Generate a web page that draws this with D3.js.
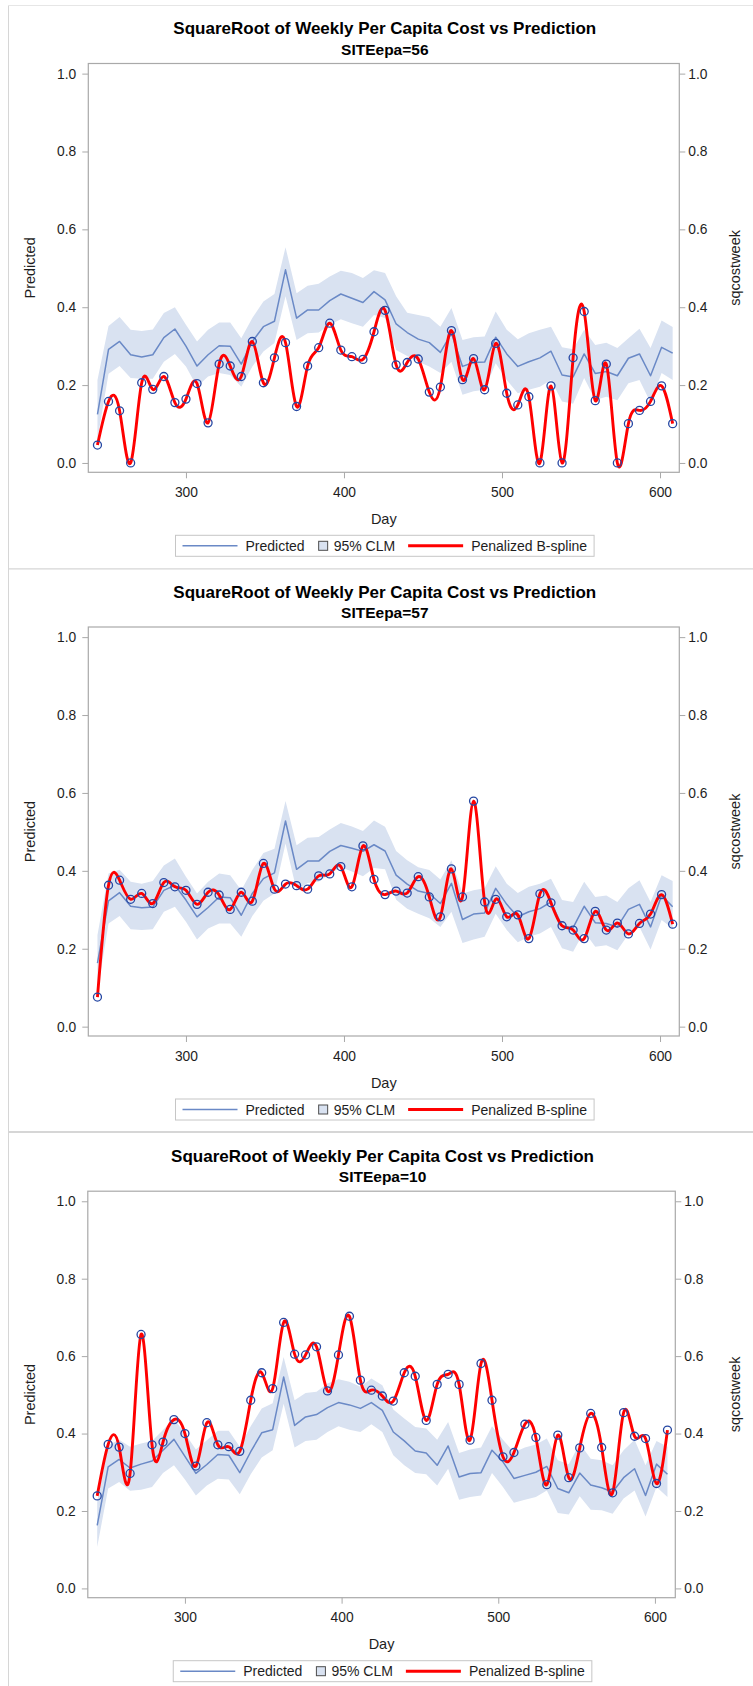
<!DOCTYPE html>
<html>
<head>
<meta charset="utf-8">
<script src="https://cdn.jsdelivr.net/npm/d3@7"></script>
<style>
  html, body { margin: 0; padding: 0; background: #fff; }
  svg { display: block; font-family: "Liberation Sans", Arial, Helvetica, sans-serif; }
</style>
</head>
<body>
<svg id="chart" width="753" height="1686"></svg>
<script>
// ---- data --------------------------------------------------------------
const days = [244,251,258,265,272,279,286,293,300,307,314,321,328,335,342,349,356,363,370,377,
              384,391,398,405,412,419,426,433,440,447,454,461,468,475,482,489,496,503,510,517,
              524,531,538,545,552,559,566,573,580,587,594,601,608];

const siteIds = ["56", "57", "10"];
const xTickValues = [300, 400, 500, 600];
const yTickValues = [0, 0.2, 0.4, 0.6, 0.8, 1.0];

// SITEepa=56
const obs56  = [0.046,0.158,0.134,0.000,0.206,0.189,0.222,0.155,0.164,0.204,
                0.103,0.254,0.249,0.222,0.312,0.206,0.270,0.309,0.145,0.249,
                0.296,0.359,0.290,0.273,0.266,0.337,0.392,0.252,0.258,0.267,
                0.182,0.195,0.340,0.214,0.268,0.188,0.307,0.179,0.149,0.170,
                0.000,0.198,0.000,0.270,0.389,0.160,0.254,0.000,0.101,0.135,
                0.158,0.198,0.101];
const pred56 = [0.125,0.292,0.312,0.278,0.272,0.278,0.322,0.344,0.300,0.249,
                0.278,0.301,0.300,0.254,0.312,0.350,0.364,0.496,0.372,0.393,
                0.393,0.417,0.434,0.423,0.412,0.440,0.419,0.357,0.335,0.318,
                0.309,0.284,0.333,0.248,0.258,0.259,0.323,0.280,0.248,0.260,
                0.270,0.287,0.226,0.221,0.280,0.230,0.235,0.224,0.269,0.280,
                0.224,0.297,0.282];
const upper56 = [0.213,0.352,0.375,0.342,0.339,0.343,0.385,0.400,0.355,0.312,
                 0.342,0.361,0.361,0.320,0.372,0.415,0.434,0.554,0.436,0.455,
                 0.460,0.479,0.494,0.488,0.475,0.495,0.488,0.428,0.386,0.380,
                 0.374,0.350,0.398,0.316,0.323,0.325,0.389,0.342,0.318,0.333,
                 0.342,0.350,0.297,0.292,0.342,0.303,0.309,0.295,0.320,0.345,
                 0.295,0.366,0.349];
const lower56 = [0.060,0.229,0.249,0.218,0.216,0.216,0.260,0.280,0.248,0.196,
                 0.222,0.231,0.226,0.196,0.248,0.286,0.308,0.428,0.316,0.333,
                 0.335,0.355,0.369,0.359,0.350,0.380,0.372,0.290,0.275,0.260,
                 0.248,0.231,0.260,0.175,0.184,0.188,0.256,0.213,0.179,0.188,
                 0.196,0.213,0.158,0.152,0.218,0.162,0.170,0.161,0.205,0.213,
                 0.155,0.231,0.213];

// SITEepa=57
const obs57  = [0.076,0.363,0.376,0.327,0.342,0.316,0.370,0.359,0.350,0.314,
                0.345,0.338,0.301,0.345,0.322,0.419,0.353,0.366,0.362,0.353,
                0.387,0.392,0.411,0.359,0.464,0.378,0.339,0.348,0.343,0.385,
                0.333,0.282,0.405,0.333,0.579,0.320,0.327,0.282,0.287,0.226,
                0.341,0.318,0.259,0.248,0.226,0.296,0.248,0.266,0.238,0.265,
                0.289,0.339,0.263];
const pred57 = [0.163,0.323,0.344,0.309,0.305,0.307,0.350,0.363,0.325,0.282,
                0.306,0.333,0.331,0.286,0.342,0.380,0.395,0.528,0.404,0.425,
                0.425,0.450,0.465,0.458,0.450,0.467,0.451,0.389,0.366,0.348,
                0.342,0.316,0.368,0.275,0.289,0.292,0.355,0.314,0.282,0.295,
                0.303,0.320,0.258,0.254,0.309,0.267,0.265,0.256,0.301,0.314,
                0.256,0.337,0.308];
const upper57 = [0.235,0.393,0.403,0.372,0.367,0.374,0.414,0.432,0.385,0.342,
                 0.372,0.393,0.389,0.350,0.402,0.446,0.457,0.579,0.466,0.485,
                 0.487,0.506,0.523,0.514,0.502,0.529,0.513,0.451,0.427,0.409,
                 0.402,0.378,0.427,0.342,0.350,0.355,0.412,0.367,0.343,0.359,
                 0.367,0.380,0.325,0.320,0.372,0.333,0.337,0.320,0.355,0.376,
                 0.320,0.389,0.374];
const lower57 = [0.090,0.265,0.284,0.250,0.248,0.250,0.295,0.308,0.269,0.224,
                 0.252,0.265,0.265,0.231,0.284,0.323,0.342,0.470,0.350,0.369,
                 0.372,0.392,0.409,0.398,0.386,0.407,0.404,0.326,0.303,0.290,
                 0.278,0.256,0.295,0.215,0.224,0.231,0.290,0.248,0.217,0.231,
                 0.239,0.256,0.201,0.192,0.244,0.205,0.209,0.196,0.237,0.256,
                 0.198,0.274,0.252];

// SITEepa=10
const obs10  = [0.239,0.372,0.365,0.297,0.656,0.371,0.378,0.436,0.400,0.316,
                0.428,0.371,0.366,0.354,0.486,0.557,0.516,0.687,0.605,0.603,
                0.624,0.510,0.603,0.703,0.538,0.512,0.497,0.484,0.557,0.548,
                0.434,0.527,0.553,0.527,0.383,0.581,0.486,0.340,0.351,0.424,
                0.390,0.268,0.396,0.286,0.363,0.452,0.364,0.247,0.454,0.393,
                0.387,0.271,0.409];
const pred10 = [0.163,0.314,0.333,0.311,0.321,0.329,0.357,0.385,0.341,0.297,
                0.320,0.346,0.344,0.299,0.353,0.402,0.410,0.546,0.421,0.443,
                0.449,0.467,0.480,0.474,0.465,0.480,0.460,0.404,0.381,0.355,
                0.350,0.318,0.368,0.288,0.297,0.299,0.357,0.327,0.284,0.292,
                0.300,0.315,0.258,0.247,0.298,0.267,0.260,0.249,0.286,0.309,
                0.240,0.321,0.295];
const upper10 = [0.223,0.370,0.384,0.366,0.374,0.381,0.409,0.438,0.400,0.359,
                 0.383,0.407,0.407,0.366,0.419,0.465,0.478,0.598,0.486,0.505,
                 0.508,0.529,0.540,0.534,0.521,0.542,0.525,0.462,0.439,0.417,
                 0.413,0.384,0.430,0.350,0.359,0.364,0.419,0.384,0.352,0.364,
                 0.372,0.387,0.331,0.321,0.374,0.335,0.331,0.318,0.357,0.384,
                 0.318,0.381,0.366];
const lower10 = [0.107,0.258,0.275,0.252,0.255,0.262,0.298,0.318,0.281,0.240,
                 0.266,0.283,0.281,0.243,0.295,0.338,0.357,0.477,0.364,0.381,
                 0.384,0.404,0.419,0.410,0.404,0.424,0.404,0.344,0.318,0.298,
                 0.295,0.266,0.309,0.229,0.236,0.240,0.298,0.262,0.221,0.229,
                 0.236,0.253,0.195,0.191,0.238,0.203,0.202,0.193,0.232,0.253,
                 0.186,0.262,0.236];

const observedBySite  = [obs56, obs57, obs10];
const predictedBySite = [pred56, pred57, pred10];
const upperBySite     = [upper56, upper57, upper10];
const lowerBySite     = [lower56, lower57, lower10];

// ---- layout ------------------------------------------------------------
const frames = [
  { l: 88.3, r: 679.3, t: 63.5,   b: 472.3,  xDomain: [238.2, 612.2] },
  { l: 88.3, r: 679.3, t: 627.0,  b: 1036.0, xDomain: [238.2, 612.2] },
  { l: 87.8, r: 675.3, t: 1191.2, b: 1597.7, xDomain: [238.0, 613.0] }
];
const yDomain = [-0.024, 1.026];

const COLOR = {
  band: "#d9e2f1",
  pred: "#6a89c6",
  marker: "#2547a3",
  spline: "#ff0000",
  frame: "#a9a9a9",
  text: "#1e1e1e",
  legendBorder: "#c6c6c6",
  page: "#d6d6d6"
};

const svg = d3.select("#chart");
svg.append("rect").attr("width", 753).attr("height", 1686).attr("fill", "#fff");

// page outline and panel separators
svg.append("line").attr("x1", 8.5).attr("x2", 8.5).attr("y1", 5).attr("y2", 1686)
  .attr("stroke", COLOR.page).attr("stroke-width", 1);
svg.append("line").attr("x1", 8).attr("x2", 753).attr("y1", 5.5).attr("y2", 5.5)
  .attr("stroke", "#e6e6e6").attr("stroke-width", 1);
svg.append("line").attr("x1", 8).attr("x2", 753).attr("y1", 568.8).attr("y2", 568.8)
  .attr("stroke", COLOR.page).attr("stroke-width", 1.2);
svg.append("line").attr("x1", 8).attr("x2", 753).attr("y1", 1132).attr("y2", 1132)
  .attr("stroke", COLOR.page).attr("stroke-width", 2);

const fmt = d3.format(".1f");

siteIds.forEach((site, i) => {
  const f = frames[i];
  const x = d3.scaleLinear().domain(f.xDomain).range([f.l, f.r]);
  const y = d3.scaleLinear().domain(yDomain).range([f.b, f.t]);
  const cx = (f.l + f.r) / 2;
  const cy = (f.t + f.b) / 2;

  const rows = days.map((d, k) => ({
    day: d,
    obs: observedBySite[i][k],
    pred: predictedBySite[i][k],
    hi: upperBySite[i][k],
    lo: lowerBySite[i][k]
  }));

  const g = svg.append("g");

  // titles
  g.append("text").attr("x", cx + 1).attr("y", f.t - 35)
    .attr("text-anchor", "middle").attr("dominant-baseline", "central")
    .attr("font-size", 17).attr("font-weight", "bold").attr("fill", "#000")
    .text("SquareRoot of Weekly Per Capita Cost vs Prediction");
  g.append("text").attr("x", cx + 1).attr("y", f.t - 14.5)
    .attr("text-anchor", "middle").attr("dominant-baseline", "central")
    .attr("font-size", 15.5).attr("font-weight", "bold").attr("fill", "#000")
    .text("SITEepa=" + site);

  // clip region = plot frame
  const clipId = "clip" + i;
  svg.append("clipPath").attr("id", clipId)
    .append("rect").attr("x", f.l).attr("y", f.t).attr("width", f.r - f.l).attr("height", f.b - f.t);

  const plot = g.append("g").attr("clip-path", `url(#${clipId})`);

  // 95% confidence band
  plot.append("path").datum(rows)
    .attr("fill", COLOR.band)
    .attr("d", d3.area().x(d => x(d.day)).y0(d => y(d.lo)).y1(d => y(d.hi)));

  // predicted
  plot.append("path").datum(rows)
    .attr("fill", "none").attr("stroke", COLOR.pred).attr("stroke-width", 1.5)
    .attr("stroke-linejoin", "round")
    .attr("d", d3.line().x(d => x(d.day)).y(d => y(d.pred)));

  // penalized B-spline through the weekly observations
  plot.append("path").datum(rows)
    .attr("fill", "none").attr("stroke", COLOR.spline).attr("stroke-width", 2.9)
    .attr("stroke-linejoin", "round")
    .attr("d", d3.line().curve(d3.curveNatural).x(d => x(d.day)).y(d => y(d.obs)));

  // observations
  plot.selectAll("circle").data(rows).join("circle")
    .attr("cx", d => x(d.day)).attr("cy", d => y(d.obs)).attr("r", 4)
    .attr("fill", "none").attr("stroke", COLOR.marker).attr("stroke-width", 1.3);

  // axes
  const styleAxis = sel => {
    sel.select(".domain").remove();
    sel.selectAll(".tick line").attr("stroke", COLOR.frame);
    sel.selectAll(".tick text").attr("fill", COLOR.text).attr("font-size", 13.8)
      .attr("font-family", "Liberation Sans, Arial, sans-serif");
  };

  g.append("g").attr("transform", `translate(${f.l},0)`)
    .call(d3.axisLeft(y).tickValues(yTickValues).tickFormat(fmt).tickSize(6).tickPadding(6))
    .call(styleAxis);
  g.append("g").attr("transform", `translate(${f.r},0)`)
    .call(d3.axisRight(y).tickValues(yTickValues).tickFormat(fmt).tickSize(6).tickPadding(3))
    .call(styleAxis);
  g.append("g").attr("transform", `translate(0,${f.b})`)
    .call(d3.axisBottom(x).tickValues(xTickValues).tickFormat(d3.format("d")).tickSize(6).tickPadding(9))
    .call(styleAxis);

  // frame
  g.append("rect").attr("x", f.l).attr("y", f.t).attr("width", f.r - f.l).attr("height", f.b - f.t)
    .attr("fill", "none").attr("stroke", COLOR.frame).attr("stroke-width", 1.2);

  // axis labels
  g.append("text").attr("x", cx).attr("y", f.b + 46.5)
    .attr("text-anchor", "middle").attr("dominant-baseline", "central")
    .attr("font-size", 14.5).attr("fill", COLOR.text).text("Day");
  g.append("text").attr("transform", `translate(30,${cy}) rotate(-90)`)
    .attr("text-anchor", "middle").attr("dominant-baseline", "central")
    .attr("font-size", 14.5).attr("fill", COLOR.text).text("Predicted");
  g.append("text").attr("transform", `translate(735,${cy}) rotate(-90)`)
    .attr("text-anchor", "middle").attr("dominant-baseline", "central")
    .attr("font-size", 14.5).attr("fill", COLOR.text).text("sqcostweek");

  // legend
  const ly = f.b + 73.5;
  const leg = g.append("g");
  const box = leg.append("rect").attr("fill", "#fff").attr("stroke", COLOR.legendBorder).attr("stroke-width", 1);
  let cursor = 0;
  const addLine = color => {
    leg.append("line").attr("x1", cursor).attr("x2", cursor + 55).attr("y1", ly).attr("y2", ly)
      .attr("stroke", color).attr("stroke-width", color === COLOR.spline ? 3 : 1.6);
    cursor += 55 + 8;
  };
  const addText = (txt, gap) => {
    const t = leg.append("text").attr("x", cursor).attr("y", ly).attr("dominant-baseline", "central")
      .attr("font-size", 14).attr("fill", COLOR.text).text(txt);
    cursor += t.node().getComputedTextLength() + gap;
  };
  addLine(COLOR.pred);
  addText("Predicted", 14);
  leg.append("rect").attr("x", cursor).attr("y", ly - 4.5).attr("width", 9).attr("height", 9)
    .attr("fill", COLOR.band).attr("stroke", "#4d4d4d").attr("stroke-width", 1);
  cursor += 9 + 6;
  addText("95% CLM", 13);
  addLine(COLOR.spline);
  addText("Penalized B-spline", 0);
  const pad = 7;
  const total = cursor + 2 * pad;
  const left = cx + 1 - total / 2;
  box.attr("x", -pad).attr("y", ly - 10.5).attr("width", total).attr("height", 21);
  leg.attr("transform", `translate(${left + pad},0)`);
});
</script>
</body>
</html>
